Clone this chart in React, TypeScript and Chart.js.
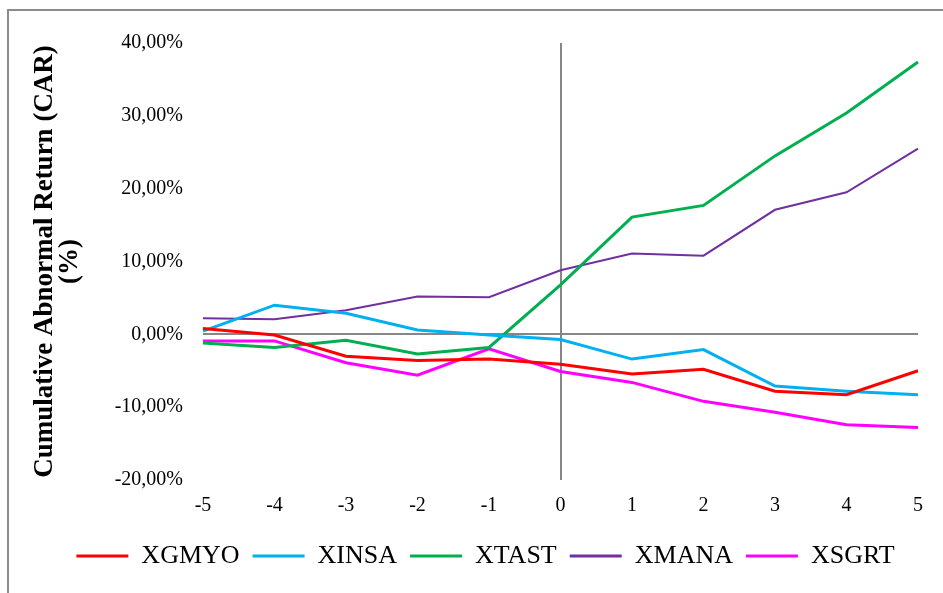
import React, { useEffect, useRef } from "react";
import { Chart, registerables } from "chart.js";

Chart.register(...registerables);

const categories = ["-5", "-4", "-3", "-2", "-1", "0", "1", "2", "3", "4", "5"];
const seriesNames = ["XGMYO", "XINSA", "XTAST", "XMANA", "XSGRT"];
const seriesColors = ["#FF0000", "#00B0F0", "#00B050", "#7030A0", "#FF00FF"];
const seriesWidths = [3, 3, 3, 2, 3];
const xgmyo = [0.8, -0.1, -3.0, -3.6, -3.4, -4.1, -5.45, -4.8, -7.8, -8.3, -5.0];
const xinsa = [0.45, 4.0, 2.9, 0.6, -0.1, -0.7, -3.4, -2.1, -7.1, -7.8, -8.3];
const xtast = [-1.2, -1.8, -0.8, -2.7, -1.8, 6.8, 16.1, 17.7, 24.5, 30.4, 37.4];
const xmana = [2.2, 2.06, 3.3, 5.2, 5.1, 8.8, 11.1, 10.8, 17.1, 19.5, 25.5];
const xsgrt = [-0.9, -0.9, -3.9, -5.6, -2.0, -5.1, -6.6, -9.2, -10.7, -12.4, -12.8];
const seriesValues = [xgmyo, xinsa, xtast, xmana, xsgrt];
const yTitle = ["Cumulative Abnormal Return (CAR)", "(%)"];

const FONT = "'Liberation Serif', 'Times New Roman', serif";

const shiftLegend = {
  id: "shiftLegend",
  afterLayout(chart: any) {
    if (chart.legend) {
      chart.legend.left += 22;
      chart.legend.right += 22;
    }
  },
};

export default function App() {
  const ref = useRef<HTMLCanvasElement | null>(null);
  useEffect(() => {
    if (!ref.current) return;
    const chart = new Chart(ref.current, {
      type: "line",
      data: {
        labels: categories,
        datasets: seriesNames.map((name, i) => ({
          label: name,
          data: seriesValues[i],
          borderColor: seriesColors[i],
          backgroundColor: seriesColors[i],
          borderWidth: seriesWidths[i],
          pointRadius: 0,
          tension: 0,
          fill: false,
        })),
      },
      plugins: [shiftLegend],
      options: {
        animation: false,
        responsive: true,
        maintainAspectRatio: false,
        layout: { padding: { top: 27, right: 43, bottom: 14, left: 0 } },
        plugins: {
          tooltip: { enabled: false },
          legend: {
            position: "bottom",
            labels: {
              boxWidth: 52,
              boxHeight: 3,
              padding: 13,
              color: "#000",
              font: { family: FONT, size: 26 },
              generateLabels: (c: any) =>
                Chart.defaults.plugins.legend.labels
                  .generateLabels(c)
                  .map((l: any) => ({ ...l, lineWidth: 0, strokeStyle: l.fillStyle })),
            },
          },
        },
        scales: {
          x: {
            type: "category",
            offset: false,
            afterFit: (s: any) => {
              s.height = 50;
            },
            border: { display: false },
            grid: {
              drawTicks: false,
              lineWidth: 2,
              color: (ctx: any) => (ctx.index === 5 ? "#868686" : "rgba(0,0,0,0)"),
            },
            ticks: {
              padding: 14,
              color: "#000",
              maxRotation: 0,
              autoSkip: false,
              font: { family: FONT, size: 20 },
            },
          },
          y: {
            min: -20,
            max: 40,
            afterFit: (s: any) => {
              s.width = 194;
            },
            border: { display: false },
            grid: {
              drawTicks: false,
              lineWidth: 2,
              color: (ctx: any) => (ctx.tick && ctx.tick.value === 0 ? "#868686" : "rgba(0,0,0,0)"),
            },
            ticks: {
              stepSize: 10,
              padding: 20,
              color: "#000",
              font: { family: FONT, size: 20 },
              callback: (v: any) => Number(v).toFixed(2).replace(".", ",") + "%",
            },
            title: {
              display: true,
              text: yTitle,
              color: "#000",
              padding: { top: 23, bottom: 0 },
              font: { family: FONT, size: 27, weight: "bold", lineHeight: 0.95 },
            },
          },
        },
      },
    });
    return () => chart.destroy();
  }, []);

  return (
    <div
      style={{
        position: "absolute",
        left: 7,
        top: 9,
        width: 936,
        height: 584,
        overflow: "hidden",
        borderTop: "2px solid #8c8c8c",
        borderLeft: "2px solid #8c8c8c",
        boxSizing: "border-box",
        background: "#fff",
      }}
    >
      <div style={{ position: "relative", width: 952, height: 582 }}>
        <canvas ref={ref} />
      </div>
    </div>
  );
}
